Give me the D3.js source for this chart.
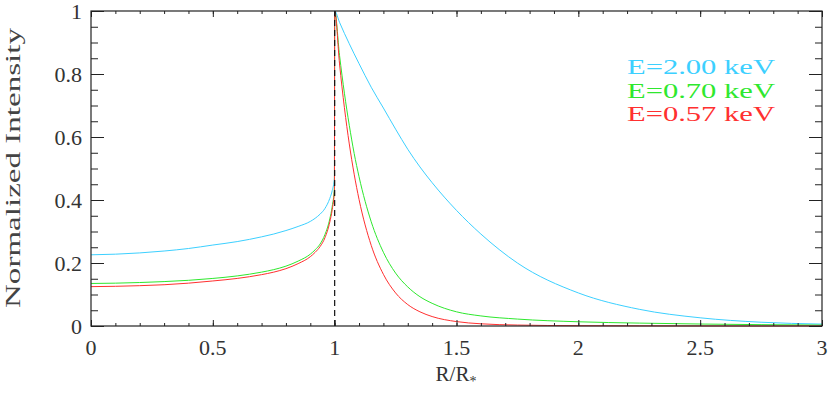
<!DOCTYPE html>
<html>
<head>
<meta charset="utf-8">
<script src="https://cdn.jsdelivr.net/npm/d3@7"></script>
<style>
  body { margin: 0; background: #fff; }
</style>
</head>
<body>
<svg id="chart" width="830" height="398"></svg>
<script>
// radius in units of R_*, sampled denser near the limb
const radius = [0, 0.1, 0.2, 0.3, 0.4, 0.5, 0.6, 0.7, 0.75, 0.8, 0.85, 0.9, 0.92, 0.94, 0.96, 0.98, 0.99, 0.999,
  1.0, 1.02, 1.04, 1.06, 1.08, 1.1, 1.15, 1.2, 1.25, 1.3, 1.35, 1.4, 1.5, 1.6, 1.75, 2.0, 2.25, 2.5, 2.75, 3.0];

const int200 = [0.226, 0.228, 0.232, 0.238, 0.246, 0.257, 0.268, 0.283, 0.292, 0.303, 0.316, 0.332, 0.342, 0.355, 0.373, 0.405, 0.43, 0.47,
  1.0, 0.964, 0.929, 0.896, 0.864, 0.833, 0.758, 0.692, 0.625, 0.561, 0.505, 0.455, 0.367, 0.292, 0.200, 0.105, 0.053, 0.026, 0.012, 0.006];

const int070 = [0.135, 0.136, 0.138, 0.141, 0.145, 0.151, 0.159, 0.171, 0.179, 0.19, 0.206, 0.228, 0.242, 0.26, 0.29, 0.34, 0.38, 0.44,
  1.0, 0.859, 0.739, 0.637, 0.548, 0.474, 0.331, 0.234, 0.168, 0.124, 0.093, 0.072, 0.045, 0.032, 0.022, 0.0134, 0.0092, 0.0063, 0.0043, 0.003];

const int057 = [0.125, 0.126, 0.128, 0.131, 0.136, 0.143, 0.151, 0.163, 0.171, 0.182, 0.198, 0.22, 0.234, 0.252, 0.28, 0.33, 0.37, 0.43,
  1.0, 0.832, 0.693, 0.578, 0.482, 0.402, 0.256, 0.164, 0.105, 0.068, 0.045, 0.030, 0.014, 0.007, 0.003, 0.001, 0.0005, 0.0002, 0.0001, 0.00005];

const seriesNames = ["E=2.00 keV", "E=0.70 keV", "E=0.57 keV"];
const seriesColors = ["#3cd0ff", "#2ee82e", "#ff3030"];
const seriesValues = [int200, int070, int057];

const xMajor = [0, 0.5, 1, 1.5, 2, 2.5, 3];
const xTickLabels = ["0", "0.5", "1", "1.5", "2", "2.5", "3"];
const yMajor = [0, 0.2, 0.4, 0.6, 0.8, 1];
const yTickLabels = ["0", "0.2", "0.4", "0.6", "0.8", "1"];

const svg = d3.select("#chart");
const margin = {left: 91, right: 8, top: 11, bottom: 72};
const W = 830, H = 398;
const FONT = "Liberation Serif, DejaVu Serif, serif";
const FS = 22;
const INK = "#333";

const x = d3.scaleLinear().domain([0, 3]).range([margin.left, W - margin.right]);
const y = d3.scaleLinear().domain([0, 1]).range([H - margin.bottom, margin.top]);

const x0 = x(0), x1 = x(3), y0 = y(0), y1 = y(1);
const xMinor = d3.range(0, 3.0001, 0.1).map(v => +v.toFixed(2));
const yMinor = d3.range(0, 1.0001, 0.05).map(v => +v.toFixed(2));

// curves
const line = d3.line()
  .x(d => x(d[0]))
  .y(d => y(d[1]))
  .curve(d3.curveMonotoneX);

seriesValues.forEach((vals, i) => {
  svg.append("path")
    .datum(radius.map((r, j) => [r, vals[j]]))
    .attr("fill", "none")
    .attr("stroke", seriesColors[i])
    .attr("stroke-width", 1)
    .attr("d", line);
});

// dashed marker at R = R_*
svg.append("line")
  .attr("x1", x(1)).attr("x2", x(1))
  .attr("y1", y0).attr("y2", y1)
  .attr("stroke", "#111")
  .attr("stroke-width", 1.2)
  .attr("stroke-dasharray", "6,4");

// axes: bottom/top share ticks, left/right share ticks
function ticks(g, scale, major, minor, orient, lenMajor, lenMinor) {
  const ax = (orient === "bottom" ? d3.axisBottom(scale) : orient === "top" ? d3.axisTop(scale)
    : orient === "left" ? d3.axisLeft(scale) : d3.axisRight(scale));
  g.append("g").call(ax.tickValues(minor).tickSize(-lenMinor).tickFormat("").tickSizeOuter(0))
    .call(s => s.select(".domain").remove());
  g.append("g").call(ax.tickValues(major).tickSize(-lenMajor).tickFormat("").tickSizeOuter(0))
    .call(s => s.select(".domain").remove());
}

const axes = svg.append("g");
ticks(axes.append("g").attr("transform", `translate(0,${y0})`), x, xMajor, xMinor, "bottom", 6, 3);
ticks(axes.append("g").attr("transform", `translate(0,${y1})`), x, xMajor, xMinor, "top", 6, 3);
ticks(axes.append("g").attr("transform", `translate(${x0},0)`), y, yMajor, yMinor, "left", 13, 7);
ticks(axes.append("g").attr("transform", `translate(${x1},0)`), y, yMajor, yMinor, "right", 13, 7);
axes.selectAll("line").attr("stroke", "#222");

svg.append("rect")
  .attr("x", x0).attr("y", y1)
  .attr("width", x1 - x0).attr("height", y0 - y1)
  .attr("fill", "none").attr("stroke", "#222").attr("stroke-width", 1.2);

// tick labels
svg.append("g").selectAll("text")
  .data(xMajor)
  .join("text")
  .attr("x", d => x(d))
  .attr("y", 355)
  .attr("text-anchor", "middle")
  .attr("font-family", FONT)
  .attr("font-size", FS)
  .attr("fill", INK)
  .text((d, i) => xTickLabels[i]);

svg.append("g").selectAll("text")
  .data(yMajor)
  .join("text")
  .attr("x", 82)
  .attr("y", d => y(d) + 8)
  .attr("text-anchor", "end")
  .attr("font-family", FONT)
  .attr("font-size", FS)
  .attr("fill", INK)
  .text((d, i) => yTickLabels[i]);

// axis titles
const xt = svg.append("text")
  .attr("x", 456)
  .attr("y", 381)
  .attr("text-anchor", "middle")
  .attr("font-family", FONT)
  .attr("font-size", 21)
  .attr("fill", INK);
xt.append("tspan").text("R/R");
xt.append("tspan").attr("dy", 5).attr("font-size", 14).text("*");

svg.append("text")
  .attr("transform", `translate(20,168) rotate(-90)`)
  .attr("text-anchor", "middle")
  .attr("font-family", FONT)
  .attr("font-size", 21)
  .attr("fill", "#444")
  .attr("textLength", 280)
  .attr("lengthAdjust", "spacingAndGlyphs")
  .text("Normalized Intensity");

// legend
svg.append("g").selectAll("text")
  .data(seriesNames)
  .join("text")
  .attr("x", 627)
  .attr("y", (d, i) => 74 + i * 23.7)
  .attr("font-family", FONT)
  .attr("font-size", 21)
  .attr("textLength", 148)
  .attr("lengthAdjust", "spacingAndGlyphs")
  .attr("fill", (d, i) => seriesColors[i])
  .text(d => d);
</script>
</body>
</html>
